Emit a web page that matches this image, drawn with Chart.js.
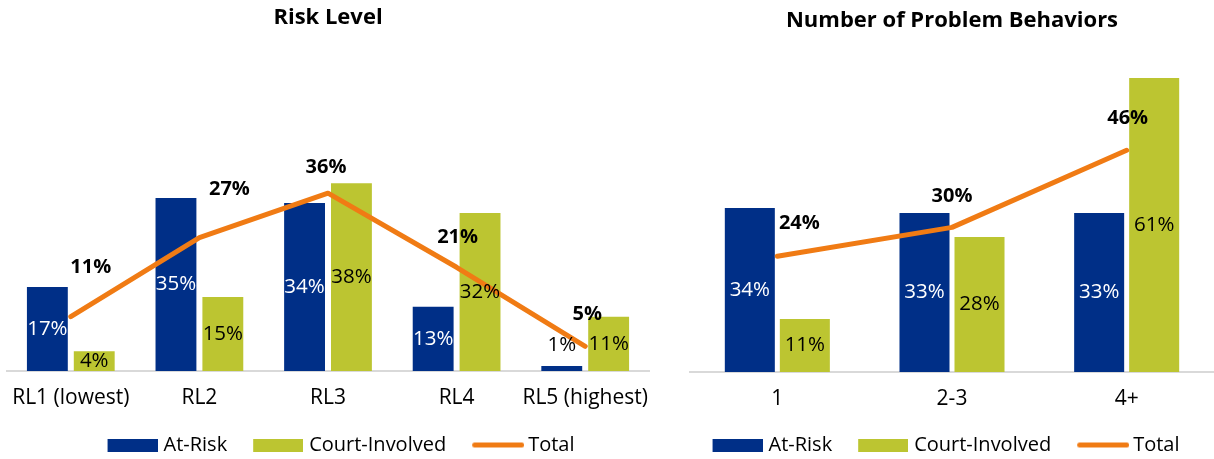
<!DOCTYPE html>
<html>
<head>
<meta charset="utf-8">
<script src="https://cdn.jsdelivr.net/npm/chart.js@4"></script>
<style>
  html, body { margin: 0; padding: 0; background: #ffffff; overflow: hidden; width: 1214px; height: 459px; }
  .box { position: absolute; top: 0; height: 465px; }
  #leftBox { left: 0; width: 660px; }
  #rightBox { left: 684px; width: 530px; }
</style>
</head>
<body>
<div class="box" id="leftBox"><canvas id="riskChart"></canvas></div>
<div class="box" id="rightBox"><canvas id="behChart"></canvas></div>
<script>
// ---- Data: Risk Level ----
const riskCategories = ['RL1 (lowest)', 'RL2', 'RL3', 'RL4', 'RL5 (highest)'];
const riskAtRisk = [17, 35, 34, 13, 1];
const riskCourt = [4, 15, 38, 32, 11];
const riskTotal = [11, 27, 36, 21, 5];

// ---- Data: Number of Problem Behaviors ----
const behCategories = ['1', '2-3', '4+'];
const behAtRisk = [34, 33, 33];
const behCourt = [11, 28, 61];
const behTotal = [24, 30, 46];

const seriesNames = ['At-Risk', 'Court-Involved', 'Total'];

// ---- Styling (kept apart from data) ----
const BLUE = '#002F87';
const GREEN = '#BCC531';
const ORANGE = '#F07B14';
const FONT = '"Open Sans", "DejaVu Sans", sans-serif';
const riskTotalLabelOffsets = [[20, -49], [30, -48], [-2, -26], [1, -30], [2, -32]];
const behTotalLabelOffsets = [[22, -33], [0, -31], [1, -32]];
const LEGEND_BW = 46;

Chart.defaults.font.family = FONT;
Chart.defaults.color = '#000';

// legend symbols: swatch of visible width V drawn so its left edge sits at the legend item start
function legendSymbol(kind, color, V) {
  const imgW = 2 * V - LEGEND_BW;
  const off = V - LEGEND_BW;
  const c = document.createElement('canvas');
  c.width = imgW; c.height = 13;
  const g = c.getContext('2d');
  if (kind === 'rect') {
    g.fillStyle = color;
    g.fillRect(off, 0, V, 13);
  } else {
    g.strokeStyle = color;
    g.lineWidth = 5;
    g.lineCap = 'round';
    g.beginPath();
    g.moveTo(off + 2.5, 6.5);
    g.lineTo(off + V - 2.5, 6.5);
    g.stroke();
  }
  return c;
}

const valueLabels = {
  id: 'valueLabels',
  afterDatasetsDraw(chart, args, opts) {
    const ctx = chart.ctx;
    ctx.save();
    ctx.textAlign = 'center';
    ctx.textBaseline = 'middle';
    chart.data.datasets.forEach((ds, di) => {
      const meta = chart.getDatasetMeta(di);
      meta.data.forEach((el, i) => {
        const txt = ds.data[i] + '%';
        if (ds.type === 'line') {
          const off = opts.lineOffsets[i] || [0, -30];
          ctx.font = 'bold 20px ' + FONT;
          ctx.fillStyle = '#000';
          ctx.fillText(txt, el.x + off[0], el.y + off[1]);
        } else {
          const h = el.base - el.y;
          let y = (el.y + el.base) / 2;
          let color = ds.labelColor;
          if (h < 12) { y = el.y - 21; color = '#000'; }
          ctx.font = '20.5px ' + FONT;
          ctx.fillStyle = color;
          ctx.fillText(txt, el.x, y);
        }
      });
    });
    ctx.restore();
  }
};

const legendShift = {
  id: 'legendShift',
  afterLayout(chart, args, opts) {
    if (chart.legend && opts.dx) {
      chart.legend.left += opts.dx;
      chart.legend.right += opts.dx;
    }
  }
};

function makeChart(id, cfg) {
  const datasets = [
    { type: 'bar', label: seriesNames[0], data: cfg.atRisk, backgroundColor: BLUE, labelColor: '#ffffff',
      categoryPercentage: cfg.catPct, barPercentage: cfg.barPct, order: 1 },
    { type: 'bar', label: seriesNames[1], data: cfg.court, backgroundColor: GREEN, labelColor: '#000000',
      categoryPercentage: cfg.catPct, barPercentage: cfg.barPct, order: 1 },
    { type: 'line', label: seriesNames[2], data: cfg.total, borderColor: ORANGE, backgroundColor: ORANGE,
      borderWidth: 5, pointRadius: 0, pointHoverRadius: 0, tension: 0, fill: false,
      borderCapStyle: 'round', borderJoinStyle: 'round', order: 0 }
  ];
  return new Chart(document.getElementById(id), {
    data: { labels: cfg.categories, datasets },
    options: {
      responsive: true,
      maintainAspectRatio: false,
      devicePixelRatio: 1,
      animation: false,
      events: [],
      layout: { padding: cfg.padding },
      plugins: {
        title: {
          display: true, text: cfg.title, color: '#000',
          font: { family: FONT, size: 22, weight: 'bold' },
          padding: cfg.titlePadding
        },
        legend: {
          display: true, position: 'bottom',
          labels: {
            usePointStyle: true, pointStyleWidth: LEGEND_BW, boxHeight: 13,
            padding: 26, color: '#000', font: { family: FONT, size: 20 },
            generateLabels: (chart) => chart.data.datasets.map((ds, i) => ({
              text: ds.label,
              fillStyle: ds.type === 'line' ? ds.borderColor : ds.backgroundColor,
              strokeStyle: ds.type === 'line' ? ds.borderColor : ds.backgroundColor,
              lineWidth: 0,
              pointStyle: ds.type === 'line'
                ? legendSymbol('line', ds.borderColor, 52)
                : legendSymbol('rect', ds.backgroundColor, 50),
              hidden: false,
              datasetIndex: i,
              fontColor: '#000'
            }))
          }
        },
        tooltip: { enabled: false },
        valueLabels: { lineOffsets: cfg.offsets },
        legendShift: { dx: cfg.legendDx }
      },
      scales: {
        x: {
          grid: { display: false, drawTicks: false },
          border: { display: true, color: '#D9D9D9', width: 2 },
          ticks: { color: '#000', font: { family: FONT, size: 21, lineHeight: 2.571 }, padding: 0, maxRotation: 0, autoSkip: false },
          afterFit: (scale) => { scale.height = cfg.axisHeight; }
        },
        y: { display: false, min: 0, max: 65 }
      }
    },
    plugins: [valueLabels, legendShift]
  });
}

makeChart('riskChart', {
  title: 'Risk Level', categories: riskCategories,
  atRisk: riskAtRisk, court: riskCourt, total: riskTotal,
  catPct: 0.729, barPct: 0.872,
  padding: { left: 6.5, right: 10.5, top: 0, bottom: 0 },
  titlePadding: { top: 5, bottom: 18.5 },
  axisHeight: 38, legendDx: 13,
  offsets: riskTotalLabelOffsets
});

makeChart('behChart', {
  title: 'Number of Problem Behaviors', categories: behCategories,
  atRisk: behAtRisk, court: behCourt, total: behTotal,
  catPct: 0.63, barPct: 0.909,
  padding: { left: 6, right: 0, top: 0, bottom: 0 },
  titlePadding: { top: 8, bottom: 24.3 },
  axisHeight: 37, legendDx: -6,
  offsets: behTotalLabelOffsets
});
</script>
</body>
</html>
